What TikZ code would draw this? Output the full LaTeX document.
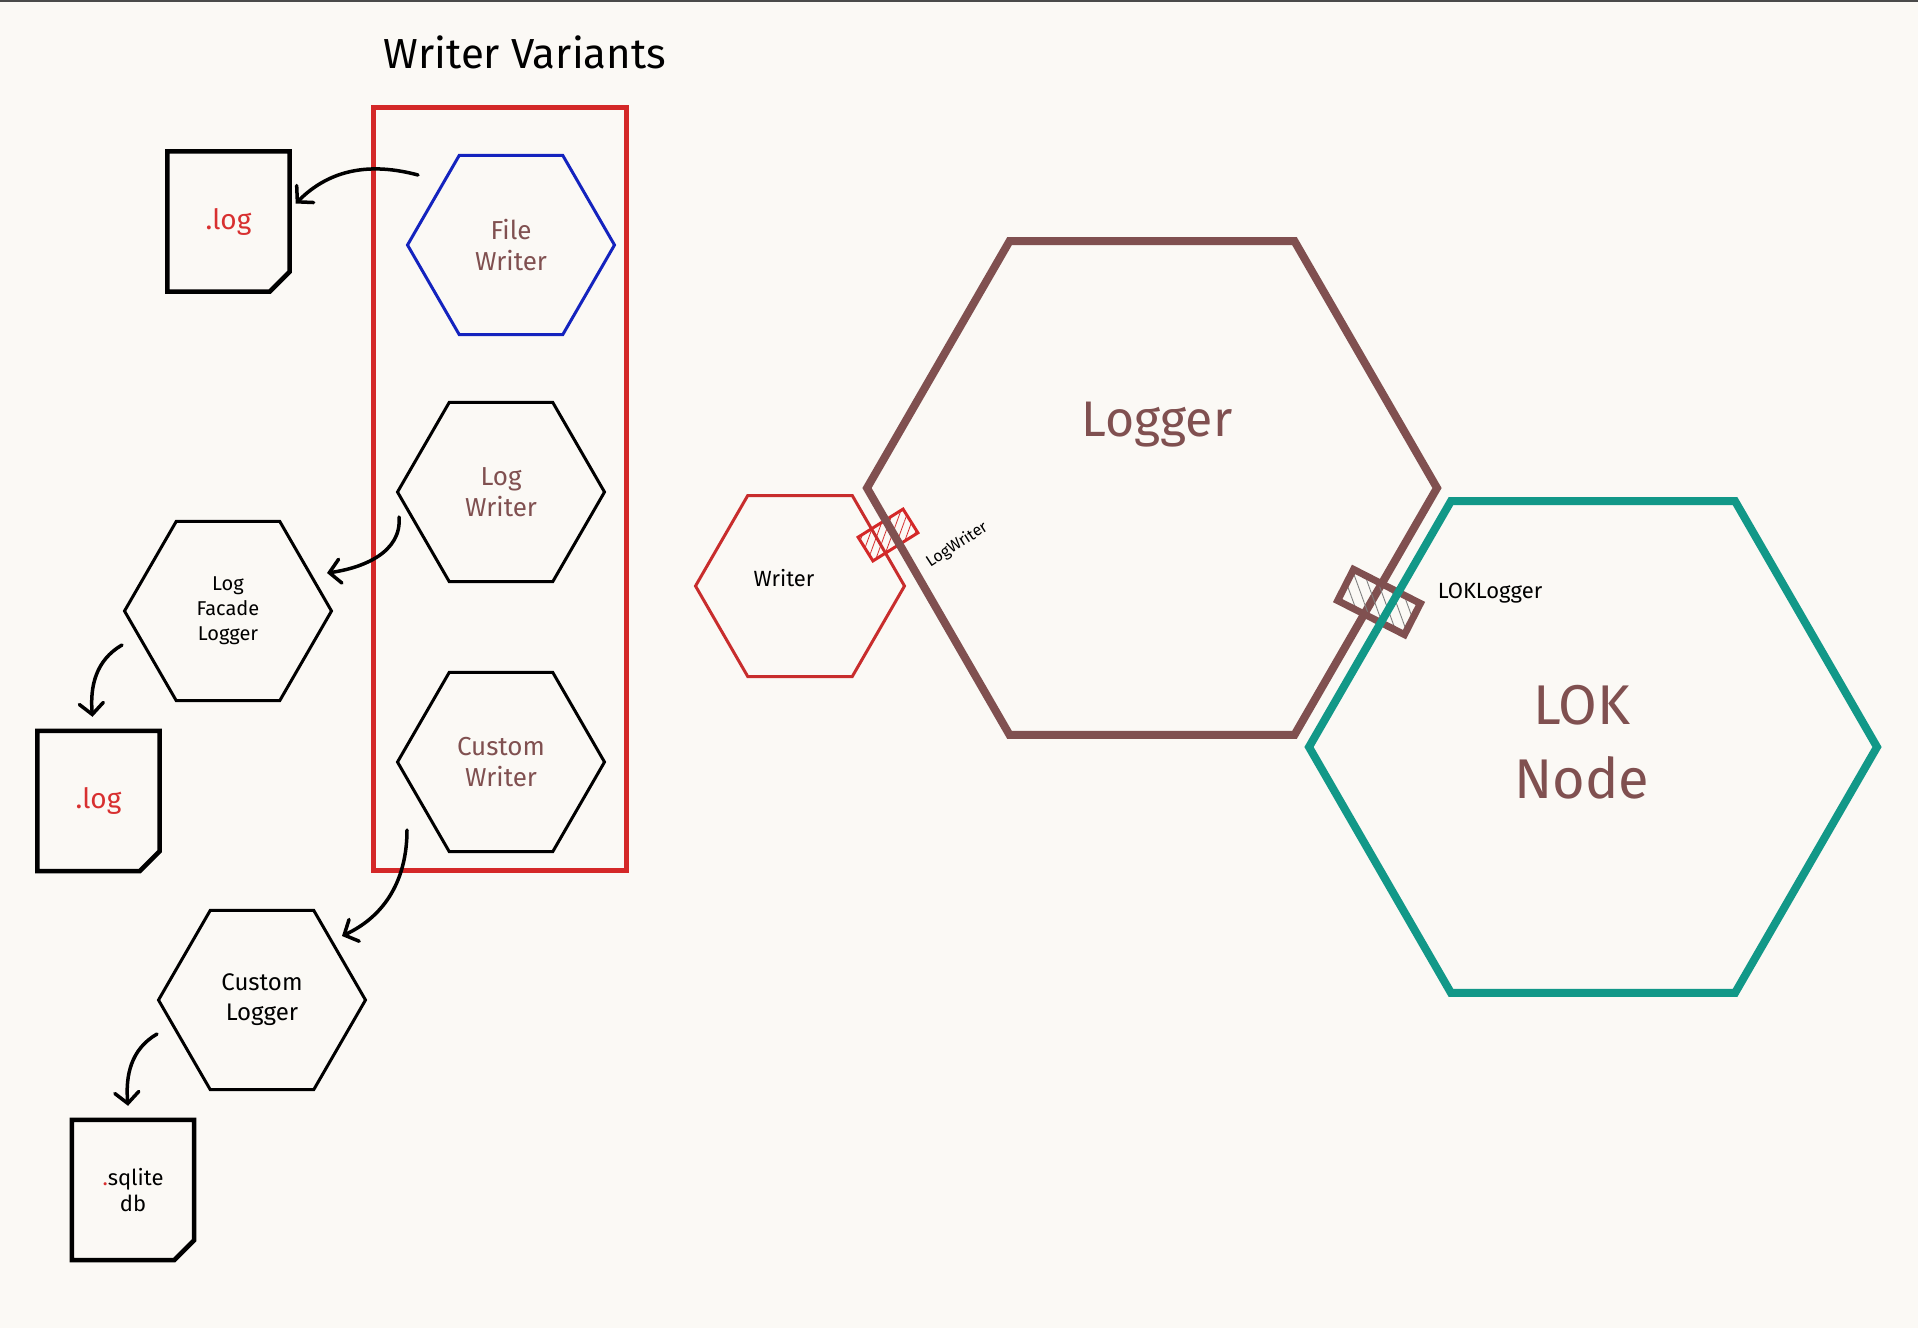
\documentclass[tikz,border=0pt]{standalone}
\usepackage{fontspec}
\setmainfont{Fira Sans}
\usetikzlibrary{shapes.geometric,arrows.meta,patterns.meta,calc}
\definecolor{bg}{HTML}{FBF9F5}
\definecolor{brn}{RGB}{128,80,80}
\definecolor{rd}{RGB}{212,40,40}
\definecolor{wrd}{RGB}{200,45,45}
\definecolor{blu}{RGB}{20,35,190}
\definecolor{tl}{RGB}{18,152,136}
\definecolor{txtred}{RGB}{216,48,48}
\definecolor{topline}{RGB}{74,74,74}
\begin{document}
\begin{tikzpicture}[x=1pt,y=1pt,
  hexa/.style={regular polygon, regular polygon sides=6, inner sep=0pt, outer sep=0pt, align=center},
  smallhex/.style={hexa, draw=black, minimum size=207pt, line width=3pt},
  docbox/.style={minimum width=122pt, minimum height=140pt, inner sep=0pt, align=center},
  docline/.style={line width=4.5pt, line join=miter},
  conn/.style={line width=3.5pt, line cap=round, -{Straight Barb[length=11pt,width=24pt,line cap=round]}},
  wtxt/.style={text=brn, font=\fontsize{26}{31}\selectfont},
]
\fill[bg] (0,0) rectangle (1918,-1328);
\useasboundingbox (0,0) rectangle (1918,-1328);
\fill[topline] (0,0) rectangle (1918,-2);

% title
\node[font=\fontsize{42}{48}\selectfont] (title) at (525,-52) {Writer Variants};

% variants frame
\node[draw=rd, line width=5pt, minimum width=253pt, minimum height=763pt, inner sep=0pt] (frame) at (500,-489) {};

% writer variants
\node[smallhex, draw=blu, wtxt] (fw) at (511,-245) {File\\Writer};
\node[smallhex, wtxt] (lw) at (501,-492) {Log\\Writer};
\node[smallhex, wtxt] (cw) at (501,-762) {Custom\\Writer};

% loggers
\node[smallhex, font=\fontsize{20}{25}\selectfont] (lfl) at (228,-611) {Log\\Facade\\Logger};
\node[smallhex, font=\fontsize{24}{30}\selectfont] (cl) at (262,-1000) {Custom\\Logger};

% documents
\node[docbox, text=txtred, font=\fontsize{28}{32}\selectfont] (d1) at (228.5,-221.5) {.log};
\node[docbox, text=txtred, font=\fontsize{28}{32}\selectfont] (d2) at (98.5,-801) {.log};
\node[docbox, font=\fontsize{22}{26}\selectfont] (d3) at (133,-1190) {{\color{txtred}.}sqlite\\db};
\foreach \d in {d1,d2,d3}{
  \draw[docline] (\d.north west) -- (\d.north east) -- ([yshift=20pt]\d.south east)
    -- ([xshift=-20pt]\d.south east) -- (\d.south west) -- cycle;
}

% connectors on the left
\draw[conn] ($(fw.center)+(-93,70)$) to[out=165,in=45] ([xshift=6pt,yshift=18pt]d1.east);
\draw[conn] ($(lw.center)+(-102,-25)$) to[out=-85,in=8] ($(lfl.center)+(99,38)$);
\draw[conn] ($(lfl.center)+(-106,-34)$) to[out=210,in=95] ([xshift=-6pt,yshift=14pt]d2.north);
\draw[conn] ($(cw.center)+(-94,-68)$) to[out=-90,in=25] ($(cl.center)+(80,64)$);
\draw[conn] ($(cl.center)+(-105,-34)$) to[out=210,in=95] ([xshift=-5pt,yshift=14pt]d3.north);

% right part
\node[hexa, draw=wrd, line width=3pt, minimum size=209pt] (wr) at (800,-586) {};
\node[font=\fontsize{22}{26}\selectfont] (wrtxt) at (784,-578) {Writer};
\node[draw=rd, line width=3pt, minimum width=53pt, minimum height=28pt, inner sep=0pt, rotate=32,
      pattern={Lines[angle=70,distance=7pt,line width=0.8pt]}, pattern color=rd] (lwport) at (888,-535) {};
\node[hexa, draw=brn, line width=8pt, minimum size=570pt] (lg) at (1152,-488) {};
\node[text=brn, font=\fontsize{50}{56}\selectfont] (lgtxt) at (1157,-425) {Logger};
\node[draw=brn, line width=7pt, minimum width=75pt, minimum height=35pt, inner sep=0pt, rotate=-27,
      pattern={Lines[angle=110,distance=10pt,line width=0.9pt]}, pattern color=gray] (lokport) at (1379,-602) {};
\node[hexa, draw=tl, line width=8pt, minimum size=568pt] (lok) at (1593,-747) {};
\node[text=brn, align=center, font=\fontsize{56}{74}\selectfont] (loktxt) at (1582,-742) {LOK\\Node};

\node[rotate=33, font=\fontsize{16}{18}\selectfont] (lwlab) at (957,-545) {LogWriter};
\node[font=\fontsize{22}{24}\selectfont] (loklab) at (1490,-593) {LOKLogger};
\end{tikzpicture}
\end{document}
